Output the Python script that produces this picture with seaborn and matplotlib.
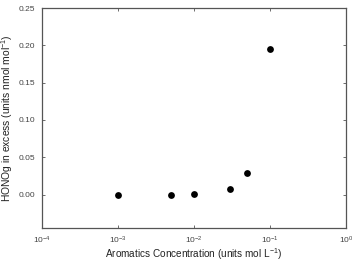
import matplotlib
matplotlib.use("Agg")
import matplotlib.pyplot as plt
import seaborn as sns
import pandas as pd

conc = [0.001, 0.005, 0.01, 0.03, 0.05, 0.1]
hono = [0.0, 0.0, 0.001, 0.007, 0.0295, 0.1945]
x_ticks = [1e-4, 1e-3, 1e-2, 1e-1, 1e0]
x_labels = ["10$^{-4}$", "10$^{-3}$", "10$^{-2}$", "10$^{-1}$", "10$^{0}$"]
y_ticks = [0.00, 0.05, 0.10, 0.15, 0.20, 0.25]

sns.set_style("white")
plt.rcParams['font.family'] = ['Liberation Sans', 'DejaVu Sans']
plt.rcParams['mathtext.fontset'] = 'custom'
plt.rcParams['mathtext.rm'] = 'Liberation Sans'
plt.rcParams['mathtext.it'] = 'Liberation Sans'
plt.rcParams['mathtext.bf'] = 'Liberation Sans'

df = pd.DataFrame({"conc": conc, "hono": hono})
fig = plt.figure(figsize=(3.52, 2.61), dpi=100)
ax = fig.add_axes([0.119, 0.126, 0.864, 0.843])
sns.scatterplot(data=df, x="conc", y="hono", ax=ax, color="black", s=24,
                edgecolor="black", linewidth=0, zorder=3)
ax.set_xscale("log")
ax.set_xlim(1e-4, 1e0)
ax.set_ylim(-0.045, 0.25)
ax.set_xticks(x_ticks)
ax.set_xticklabels(x_labels)
ax.minorticks_off()
ax.set_yticks(y_ticks)
ax.set_yticklabels([f"{v:.2f}" for v in y_ticks])
for s in ax.spines.values():
    s.set_color("#555555")
    s.set_linewidth(0.9)
ax.tick_params(axis="both", which="both", direction="in", length=2.5, width=0.6,
               color="#555555", labelsize=6, labelcolor="#444444",
               top=True, right=True, bottom=True, left=True, pad=5)
ax.set_xlabel("Aromatics Concentration (units mol L$^{-1}$)", fontsize=7.2, color="#222222")
ax.set_ylabel("HONOg in excess (units nmol mol$^{-1}$)", fontsize=7.4, color="#222222")
ax.xaxis.set_label_coords(0.5, -0.08)
ax.yaxis.set_label_coords(-0.088, 0.5)
fig.savefig("out.png", dpi=100)
